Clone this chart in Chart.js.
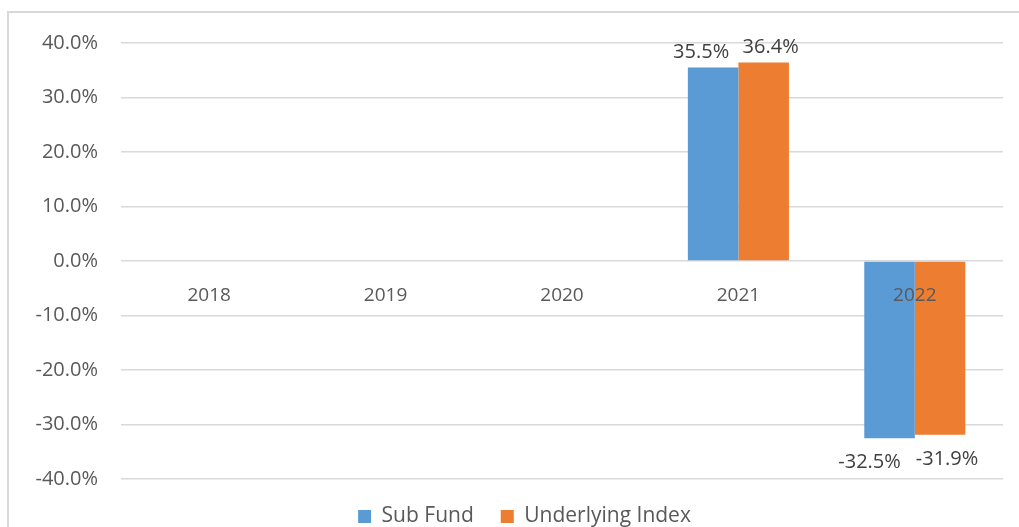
<!DOCTYPE html>
<html>
<head>
<meta charset="utf-8">
<script src="https://cdn.jsdelivr.net/npm/chart.js@4/dist/chart.umd.min.js"></script>
<style>
  html, body { margin: 0; padding: 0; background: #fff; overflow: hidden; }
  #frame { position: absolute; left: 7px; top: 11px; width: 2000px; height: 2000px; border: 2px solid #D9D9D9; }
  #wrap { position: absolute; left: 0; top: 0; width: 1019px; height: 537px; }
</style>
</head>
<body>
<div id="frame"></div>
<div id="wrap"><canvas id="chart"></canvas></div>
<script>
// chart data
const years = ['2018', '2019', '2020', '2021', '2022'];
const subFund = [null, null, null, 35.5, -32.5];
const underlyingIndex = [null, null, null, 36.4, -31.9];
const yTicks = [-40, -30, -20, -10, 0, 10, 20, 30, 40];

const FONT = "'Open Sans', sans-serif";

// value labels above / below each bar, nudged apart like Excel does
const labelShift = { pos: [-12, 7], neg: [-20, 7] };
const valueLabels = {
    id: 'valueLabels',
    afterDatasetsDraw(chart) {
        const ctx = chart.ctx;
        ctx.save();
        ctx.font = '20px ' + FONT;
        ctx.fillStyle = '#404040';
        ctx.textAlign = 'center';
        ctx.textBaseline = 'alphabetic';
        chart.data.datasets.forEach((ds, i) => {
            chart.getDatasetMeta(i).data.forEach((bar, j) => {
                const v = ds.data[j];
                if (v === null) return;
                const y = v >= 0 ? bar.y - 10 : bar.y + 30;
                const dx = v >= 0 ? labelShift.pos[i] : labelShift.neg[i];
                ctx.fillText(v.toFixed(1) + '%', bar.x + dx, y);
            });
        });
        ctx.restore();
    }
};

// legend in the original sits a bit right of the canvas centre
const legendNudge = {
    id: 'legendNudge',
    afterLayout(chart) {
        if (chart.legend) chart.legend.left += 46;
    }
};

new Chart(document.getElementById('chart'), {
    type: 'bar',
    data: {
        labels: years,
        datasets: [
            { label: 'Sub Fund', data: subFund, backgroundColor: '#5B9BD5' },
            { label: 'Underlying Index', data: underlyingIndex, backgroundColor: '#ED7D31' }
        ]
    },
    options: {
        responsive: true,
        maintainAspectRatio: false,
        animation: false,
        datasets: { bar: { categoryPercentage: 0.573, barPercentage: 1 } },
        layout: { padding: { left: 0, right: 16, top: 43, bottom: 0 } },
        scales: {
            x: {
                position: { y: 0 },
                grid: { display: false },
                border: { display: false },
                ticks: { z: 1, color: '#595959', font: { family: FONT, size: 19 }, padding: 15 }
            },
            y: {
                min: -40,
                max: 40,
                afterFit: s => { s.width = 121; },
                afterBuildTicks: s => { s.ticks = yTicks.map(v => ({ value: v })); },
                grid: { color: '#D9D9D9', lineWidth: 1.5, drawTicks: false },
                border: { display: false },
                ticks: {
                    color: '#595959',
                    font: { family: FONT, size: 20 },
                    padding: 23,
                    callback: v => v.toFixed(1) + '%'
                }
            }
        },
        plugins: {
            legend: {
                position: 'bottom',
                labels: {
                    color: '#595959',
                    font: { family: FONT, size: 21 },
                    boxWidth: 13,
                    boxHeight: 13,
                    padding: 27
                }
            },
            tooltip: { enabled: false }
        }
    },
    plugins: [valueLabels, legendNudge]
});
</script>
</body>
</html>
